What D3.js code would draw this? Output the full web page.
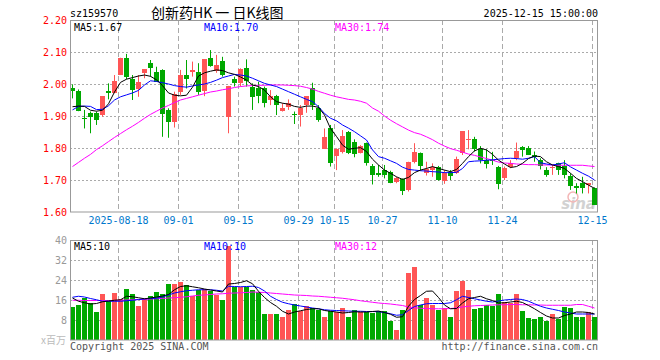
<!DOCTYPE html>
<html><head><meta charset="utf-8">
<script src="https://cdn.jsdelivr.net/npm/d3@7/dist/d3.min.js"></script>
<style>
html,body{margin:0;padding:0;background:#fff;}
svg{display:block;}
text{font-family:"DejaVu Sans Mono",monospace;}
</style></head>
<body><div id="chart"></div>
<script>
const dates = ["08-06","08-07","08-08","08-11","08-12","08-13","08-14","08-15","08-18","08-19","08-20","08-21","08-22","08-25","08-26","08-27","08-28","08-29",
"09-01","09-02","09-03","09-04","09-05","09-08","09-09","09-10","09-11","09-12","09-15","09-16","09-17","09-18","09-19","09-22","09-23","09-24","09-25","09-26","09-29","09-30",
"10-09","10-10","10-13","10-14","10-15","10-16","10-17","10-20","10-21","10-22","10-23","10-24","10-27","10-28","10-29","10-30","10-31",
"11-03","11-04","11-05","11-06","11-07","11-10","11-11","11-12","11-13","11-14","11-17","11-18","11-19","11-20","11-21","11-24","11-25","11-26","11-27","11-28",
"12-01","12-02","12-03","12-04","12-05","12-08","12-09","12-10","12-11","12-12","12-15"];
const open  = [1.986,1.979,1.893,1.910,1.910,1.903,1.978,1.971,2.028,2.082,2.015,1.986,2.033,2.065,2.039,2.044,1.919,1.882,1.976,2.028,2.039,2.036,1.976,2.082,2.039,2.072,1.896,2.015,2.002,2.049,1.992,1.986,1.986,1.950,1.962,1.916,1.928,1.906,1.903,1.934,1.986,1.924,1.799,1.864,1.773,1.789,1.851,1.820,1.785,1.815,1.744,1.721,1.731,1.726,1.693,1.702,1.669,1.757,1.783,1.721,1.734,1.740,1.695,1.726,1.721,1.783,1.823,1.827,1.796,1.763,1.762,1.742,1.705,1.740,1.770,1.804,1.799,1.778,1.762,1.731,1.737,1.752,1.744,1.713,1.681,1.692,1.684,1.674];
const high  = [1.999,1.983,1.919,1.914,1.914,1.962,2.002,2.028,2.082,2.094,2.028,2.028,2.046,2.075,2.054,2.046,1.924,1.976,2.044,2.075,2.070,2.065,2.077,2.106,2.091,2.085,1.994,2.023,2.049,2.077,2.002,2.007,1.992,1.981,1.966,1.940,1.952,1.914,1.934,1.962,2.004,1.934,1.861,1.872,1.799,1.856,1.853,1.827,1.809,1.817,1.750,1.747,1.747,1.729,1.710,1.705,1.757,1.815,1.786,1.757,1.752,1.744,1.731,1.731,1.773,1.853,1.856,1.835,1.806,1.796,1.788,1.744,1.742,1.762,1.817,1.806,1.806,1.789,1.768,1.740,1.747,1.754,1.762,1.721,1.690,1.710,1.690,1.677];
const low   = [1.955,1.915,1.861,1.846,1.872,1.898,1.952,1.971,2.028,2.015,1.950,1.960,2.018,2.023,2.007,1.835,1.832,1.864,1.966,1.986,2.023,1.966,1.962,2.054,2.035,2.023,1.846,1.992,1.992,1.992,1.919,1.940,1.927,1.934,1.903,1.914,1.919,1.875,1.867,1.910,1.919,1.882,1.799,1.742,1.731,1.783,1.781,1.771,1.783,1.745,1.686,1.710,1.705,1.690,1.690,1.653,1.664,1.752,1.729,1.714,1.710,1.698,1.688,1.700,1.719,1.778,1.796,1.789,1.752,1.736,1.747,1.671,1.700,1.737,1.762,1.773,1.778,1.757,1.733,1.710,1.716,1.716,1.705,1.669,1.658,1.658,1.658,1.622];
const close = [1.976,1.917,1.890,1.898,1.888,1.962,1.973,2.009,2.082,2.023,1.981,2.007,2.046,2.049,2.007,1.908,1.882,1.969,2.028,2.015,2.044,1.973,2.077,2.057,2.059,2.028,1.994,2.004,2.046,2.007,1.962,1.962,1.938,1.962,1.934,1.926,1.940,1.904,1.926,1.962,1.934,1.885,1.835,1.754,1.796,1.838,1.785,1.783,1.806,1.754,1.716,1.714,1.716,1.693,1.707,1.664,1.757,1.789,1.742,1.733,1.742,1.700,1.721,1.714,1.765,1.853,1.827,1.797,1.763,1.750,1.758,1.690,1.737,1.754,1.791,1.796,1.778,1.773,1.742,1.716,1.740,1.729,1.716,1.681,1.674,1.677,1.690,1.622];
const ma5   = [1.929,1.931,1.930,1.918,1.915,1.918,1.938,1.975,2.005,2.015,2.020,2.025,2.028,2.024,2.013,1.995,1.972,1.965,1.963,1.965,1.990,2.025,2.035,2.040,2.044,2.042,2.035,2.030,2.022,2.012,1.997,1.992,1.981,1.960,1.945,1.940,1.937,1.930,1.927,1.931,1.931,1.927,1.903,1.861,1.836,1.809,1.796,1.799,1.801,1.789,1.765,1.747,1.731,1.721,1.710,1.702,1.708,1.723,1.731,1.736,1.742,1.736,1.731,1.726,1.733,1.752,1.773,1.791,1.799,1.794,1.780,1.762,1.750,1.739,1.742,1.752,1.767,1.775,1.773,1.757,1.747,1.742,1.736,1.721,1.705,1.695,1.684,1.674];
const ma10  = [1.919,1.930,1.931,1.930,1.920,1.921,1.932,1.950,1.960,1.966,1.972,1.980,1.997,2.010,2.008,2.004,2.000,1.995,1.992,1.990,1.994,1.997,2.000,2.005,2.012,2.020,2.025,2.030,2.028,2.025,2.018,2.010,2.002,1.997,1.992,1.984,1.976,1.968,1.960,1.952,1.945,1.929,1.908,1.893,1.885,1.872,1.862,1.851,1.838,1.825,1.794,1.773,1.768,1.760,1.752,1.740,1.733,1.731,1.729,1.728,1.726,1.725,1.723,1.723,1.724,1.736,1.757,1.759,1.760,1.762,1.763,1.765,1.767,1.768,1.767,1.765,1.768,1.773,1.754,1.750,1.747,1.750,1.754,1.741,1.731,1.721,1.712,1.700];
const ma30  = [1.742,1.755,1.768,1.780,1.795,1.807,1.820,1.833,1.845,1.857,1.868,1.880,1.893,1.905,1.915,1.925,1.933,1.942,1.950,1.955,1.960,1.965,1.970,1.975,1.978,1.982,1.985,1.989,1.992,1.994,1.995,1.996,1.996,1.997,1.997,1.997,1.996,1.995,1.993,1.989,1.984,1.977,1.971,1.965,1.960,1.956,1.952,1.950,1.946,1.940,1.925,1.915,1.900,1.887,1.876,1.866,1.856,1.848,1.843,1.835,1.826,1.815,1.806,1.798,1.793,1.787,1.781,1.777,1.772,1.767,1.762,1.756,1.753,1.752,1.750,1.749,1.748,1.748,1.747,1.747,1.747,1.746,1.746,1.746,1.746,1.746,1.744,1.742];
const volume = [13.2,14.1,16.8,14.8,11.2,18.4,15.5,18.8,16.4,20.4,18.4,13.6,16.4,17.7,19.3,18.4,22.5,22.5,23.3,21.9,17.7,20.1,20.5,19.5,17.9,16.0,37.5,21.2,21.2,21.2,20.1,19.2,10.4,10.4,10.4,9.2,12.1,14.5,11.7,13.7,12.8,12.1,9.2,11.5,11.1,12.8,9.2,12.1,11.2,11.2,10.8,11.5,11.5,7.7,4.1,12.1,26.9,29.2,13.9,16.8,13.9,12.1,12.8,9.2,19.7,23.7,20.0,12.5,12.9,14.1,13.5,18.5,15.2,14.8,18.5,11.7,8.8,8.4,9.2,7.7,10.4,8.5,13.2,12.8,9.2,9.2,11.2,9.2];
const vma5  = [16.8,15.5,14.9,14.4,14.6,15.3,15.6,15.9,16.1,17.5,17.3,16.9,16.5,16.8,17.2,17.6,18.2,20.1,21.4,21.7,21.3,20.9,20.4,20.0,19.6,19.2,22.4,22.6,23.0,23.7,22.5,19.5,17.0,15.0,13.5,11.5,10.4,11.2,11.7,12.2,12.5,12.5,11.8,11.5,11.2,10.8,11.0,11.3,11.2,11.2,11.4,11.6,11.0,10.3,9.1,9.3,13.5,16.2,17.8,19.5,19.6,17.0,14.0,12.5,12.6,14.8,16.5,17.0,17.5,16.5,15.8,14.8,14.9,15.2,15.5,15.0,13.8,12.5,11.0,9.6,8.8,8.8,9.8,10.4,11.2,11.2,11.0,10.4];
const vma10 = [17.1,17.5,17.2,16.6,16.1,15.5,15.5,15.5,15.5,15.7,15.9,16.2,16.4,16.6,16.7,17.2,18.0,18.8,19.3,19.7,19.9,20.1,20.1,20.1,19.9,19.6,21.5,21.4,21.3,21.4,21.5,21.0,19.6,17.5,16.2,15.1,14.5,14.0,13.6,13.2,12.8,12.5,12.1,11.9,11.8,11.7,11.6,11.5,11.5,11.4,11.4,11.3,11.0,10.5,9.9,10.1,11.8,13.4,14.0,14.5,14.6,14.6,14.6,14.9,16.1,17.5,17.0,16.5,16.0,15.5,15.2,15.6,16.0,16.2,16.4,16.2,15.5,14.5,13.5,12.8,12.3,11.8,11.2,10.8,10.4,10.4,10.4,10.4];
const vma30 = [15.9,15.9,15.8,15.8,15.8,15.8,15.8,15.8,15.9,16.0,16.1,16.2,16.3,16.4,16.5,16.6,16.8,16.9,17.1,17.3,17.6,17.9,18.0,18.2,18.4,18.5,18.7,18.8,18.9,19.0,19.2,19.1,19.0,18.8,18.6,18.4,18.2,18.0,17.9,17.8,17.6,17.5,17.3,17.1,16.9,16.7,16.4,16.1,15.7,15.4,15.1,14.8,14.6,14.4,14.1,13.8,13.2,12.9,12.7,12.6,12.5,12.5,12.5,12.6,12.8,13.2,13.5,13.7,13.8,13.9,14.0,14.1,14.1,14.2,14.2,14.1,14.1,14.0,14.0,13.9,13.9,13.9,13.9,13.9,14.2,14.2,13.5,12.8];
const dateTicks  = ["08-18","09-01","09-15","09-29","10-15","10-27","11-10","11-24","12-15"];
const dateLabels = ["2025-08-18","09-01","09-15","09-29","10-15","10-27","11-10","11-24","12-15"];
const priceTicks = [2.20,2.10,2.00,1.90,1.80,1.70,1.60];
const volTicks   = [40,32,24,16,8];
const legendPrice = ["MA5:1.67","MA10:1.70","MA30:1.74"];
const legendVol   = ["MA5:10","MA10:10","MA30:12"];

const RED = "#ff5555", GREEN = "#00a800", GRID = "#aaaaaa", BOX = "#999999";
const svg = d3.select("#chart").append("svg").attr("width",660).attr("height",360);
const idx = d3.range(dates.length);
const x = d3.scaleBand().domain(idx).range([70,598]).padding(0);
const bw = x.bandwidth();
const cx = i => x(i) + 2.5;
const y = d3.scaleLinear().domain([1.6,2.2]).range([212,20]);
const yv = d3.scaleLinear().domain([0,40]).range([340,240]);
const up = i => close[i] >= open[i];

// header
svg.append("text").attr("x",70).attr("y",17).attr("font-size",10).attr("fill","#000").text("sz159570");
svg.append("text").attr("x",151).attr("y",18).attr("font-size",14)
  .style("font-family","'Noto Sans CJK SC',sans-serif").attr("fill","#000").text("创新药HK 一 日K线图");
svg.append("text").attr("x",598).attr("y",17).attr("font-size",10).attr("text-anchor","end").attr("fill","#000").text("2025-12-15 15:00:00");

function panel(top, bottom, ys, ticks, tickColor, fmt) {
  const g = svg.append("g");
  // horizontal dotted grid
  g.selectAll("line.h").data(ticks.filter(t => ys(t) > top + 1 && ys(t) < bottom - 1)).join("line")
    .attr("x1",70).attr("x2",598).attr("y1",d => Math.round(ys(d))+0.5).attr("y2",d => Math.round(ys(d))+0.5)
    .attr("stroke",GRID).attr("stroke-dasharray","2,2");
  // vertical dashed
  g.selectAll("line.v").data(dateTicks).join("line")
    .attr("x1",d => x(dates.indexOf(d))+0.5).attr("x2",d => x(dates.indexOf(d))+0.5)
    .attr("y1",top).attr("y2",bottom).attr("stroke",GRID).attr("stroke-dasharray","5,3");
  // axis labels
  const ax = svg.append("g").attr("transform","translate(68,0)")
    .call(d3.axisLeft(ys).tickValues(ticks).tickSize(0).tickPadding(1).tickFormat(fmt));
  ax.select(".domain").remove();
  ax.selectAll("text").attr("fill",tickColor).style("font-family","'DejaVu Sans Mono',monospace").attr("font-size",10);
  return g;
}
panel(20,212,y,priceTicks,"#ff0000",d3.format(".2f"));
panel(240,340,yv,volTicks,"#999999",d => d);

// date axis
const xa = svg.append("g").attr("transform","translate(0,212)")
  .call(d3.axisBottom(x).tickValues(dateTicks.map(d => dates.indexOf(d))).tickSize(0).tickPadding(5)
    .tickFormat(i => dateLabels[dateTicks.indexOf(dates[i])]));
xa.select(".domain").remove();
xa.selectAll(".tick").attr("transform", i => `translate(${x(i)+0.5},0)`);
xa.selectAll("text").attr("fill","#0077cc").attr("font-size",10).style("font-family","'DejaVu Sans Mono',monospace");

// watermark
svg.append("text").attr("x",596).attr("y",209).attr("text-anchor","end").attr("font-size",15)
  .attr("font-style","italic").attr("font-weight","bold").style("font-family","'DejaVu Sans',sans-serif")
  .attr("fill","#c8c8c8").attr("opacity",0.8).text("sina");
svg.append("circle").attr("cx",573).attr("cy",197).attr("r",5).attr("fill","none").attr("stroke","#f3b6b6").attr("stroke-width",1.5);

// candles
const cg = svg.append("g");
cg.selectAll("line.w").data(idx).join("line")
  .attr("x1",i => Math.floor(cx(i))+0.5).attr("x2",i => Math.floor(cx(i))+0.5)
  .attr("y1",i => y(high[i])).attr("y2",i => y(low[i]))
  .attr("stroke",i => up(i) ? RED : GREEN);
cg.selectAll("rect").data(idx).join("rect")
  .attr("x",i => x(i)).attr("width",bw-1)
  .attr("y",i => Math.round(y(Math.max(open[i],close[i]))))
  .attr("height",i => Math.max(1, Math.round(Math.abs(y(open[i]) - y(close[i])))))
  .attr("fill",i => up(i) ? RED : GREEN).attr("shape-rendering","crispEdges");

// volume bars
svg.append("g").selectAll("rect").data(idx).join("rect")
  .attr("x",i => x(i)).attr("width",bw-1)
  .attr("y",i => Math.round(yv(volume[i]))).attr("height",i => 340 - Math.round(yv(volume[i])))
  .attr("fill",i => up(i) ? RED : GREEN).attr("shape-rendering","crispEdges");

// MA lines
function maLine(arr, ys, color) {
  svg.append("path").datum(idx)
    .attr("d", d3.line().x(i => cx(i)).y(i => ys(arr[i])))
    .attr("fill","none").attr("stroke",color).attr("stroke-width",1);
}
maLine(ma30,y,"#ff00ff"); maLine(ma10,y,"#0000ff"); maLine(ma5,y,"#000000");
maLine(vma30,yv,"#ff00ff"); maLine(vma10,yv,"#0000ff"); maLine(vma5,yv,"#000000");

// boxes
svg.append("rect").attr("x",70.5).attr("y",20.5).attr("width",527).attr("height",191.5).attr("fill","none").attr("stroke",BOX);
svg.append("rect").attr("x",70.5).attr("y",240.5).attr("width",527).attr("height",99.5).attr("fill","none").attr("stroke",BOX);

// legends
const legColors = ["#000000","#0000ff","#ff00ff"], legX = [74,204,335];
legendPrice.forEach((t,k) => svg.append("text").attr("x",legX[k]).attr("y",31).attr("font-size",10).attr("fill",legColors[k]).text(t));
legendVol.forEach((t,k) => svg.append("text").attr("x",legX[k]).attr("y",250).attr("font-size",10).attr("fill",legColors[k]).text(t));

// footer
svg.append("text").attr("x",66).attr("y",344).attr("text-anchor","end").attr("font-size",10)
  .style("font-family","'Noto Sans CJK SC',sans-serif").attr("fill","#bbbbbb").text("x百万");
svg.append("text").attr("x",70).attr("y",350).attr("font-size",10).attr("fill","#555").text("Copyright 2025 SINA.COM");
svg.append("text").attr("x",598).attr("y",350).attr("text-anchor","end").attr("font-size",10).attr("fill","#555").text("http://finance.sina.com.cn");
</script></body></html>
